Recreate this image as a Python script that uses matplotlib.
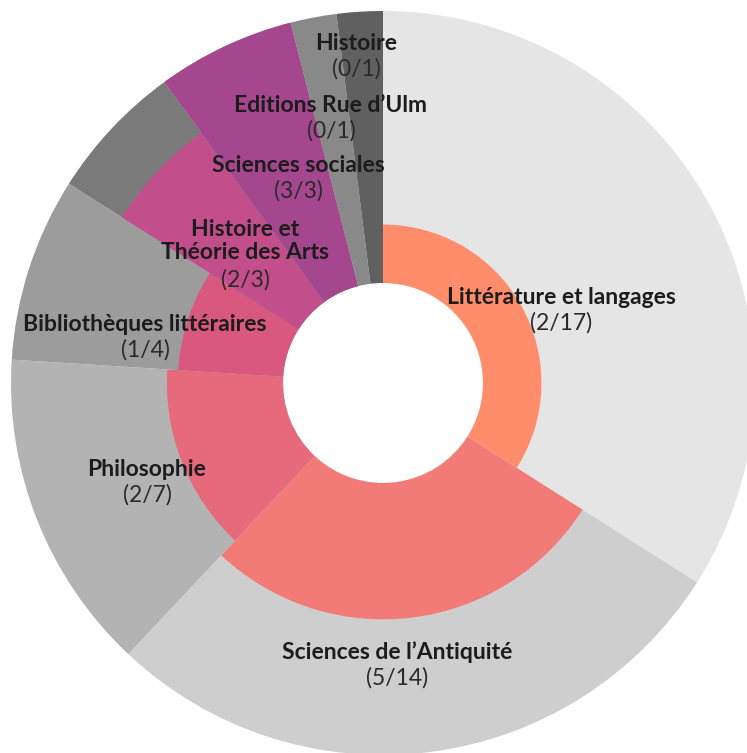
import numpy as np
import matplotlib
matplotlib.use('Agg')
import matplotlib.pyplot as plt
from matplotlib.patches import Wedge

# data: total volumes per collection and how many are done
categories = ['Littérature et langages', "Sciences de l\u2019Antiquité", 'Philosophie',
              'Bibliothèques littéraires', 'Histoire et\nThéorie des Arts',
              'Sciences sociales', "Editions Rue d\u2019Ulm", 'Histoire']
done = [2, 5, 2, 1, 2, 3, 0, 0]
total = [17, 14, 7, 4, 3, 3, 1, 1]

outer_colors = ['#e5e5e5', '#cecece', '#b3b3b3', '#9c9c9c', '#7a7a7a',
                '#8a8a8a', '#898989', '#606060']
inner_colors = ['#ff8d6c', '#f37b77', '#e6697c', '#d8587f', '#c24f8b',
                '#a5478f', '#8f4a8f', '#7a4a8a']

# label centres in pixels (x, y from top)
label_pos = [(561, 310), (397, 665), (147, 482), (145, 337), (245, 254),
             (298, 178), (331, 118), (356, 56)]

W, H = 747, 753
cx, cy = 383, H - 383
R = 372
r0 = 100
fs = 16.5

fig = plt.figure(figsize=(W / 100, H / 100), dpi=100)
ax = fig.add_axes([0, 0, 1, 1])
ax.set_xlim(0, W)
ax.set_ylim(0, H)
ax.axis('off')

tot = np.array(total, dtype=float)
ends = np.cumsum(tot) / tot.sum() * 360
starts = ends - tot / tot.sum() * 360

for i in range(len(categories)):
    t1 = 90 - ends[i]
    t2 = 90 - starts[i]
    ax.add_patch(Wedge((cx, cy), R, t1, t2, width=R - r0,
                       facecolor=outer_colors[i], edgecolor='none'))
    frac = done[i] / total[i]
    if frac > 0:
        ri = np.sqrt(r0 ** 2 + frac * (R ** 2 - r0 ** 2))
        ax.add_patch(Wedge((cx, cy), ri, t1, t2, width=ri - r0,
                           facecolor=inner_colors[i], edgecolor='none'))

step = 25.5
for i, name in enumerate(categories):
    x, y = label_pos[i]
    n_lines = name.count('\n') + 1
    top = y - step * n_lines / 2
    ax.text(x, H - (top + step * (n_lines - 1) / 2), name, ha='center', va='center',
            fontsize=fs, fontweight='bold', family='Lato', color='#1c1c1c',
            linespacing=step / (fs * 100 / 72))
    ax.text(x, H - (top + step * n_lines), '(%d/%d)' % (done[i], total[i]),
            ha='center', va='center', fontsize=fs, family='Lato', color='#2a2a2a')

plt.savefig('out.png', dpi=100)
